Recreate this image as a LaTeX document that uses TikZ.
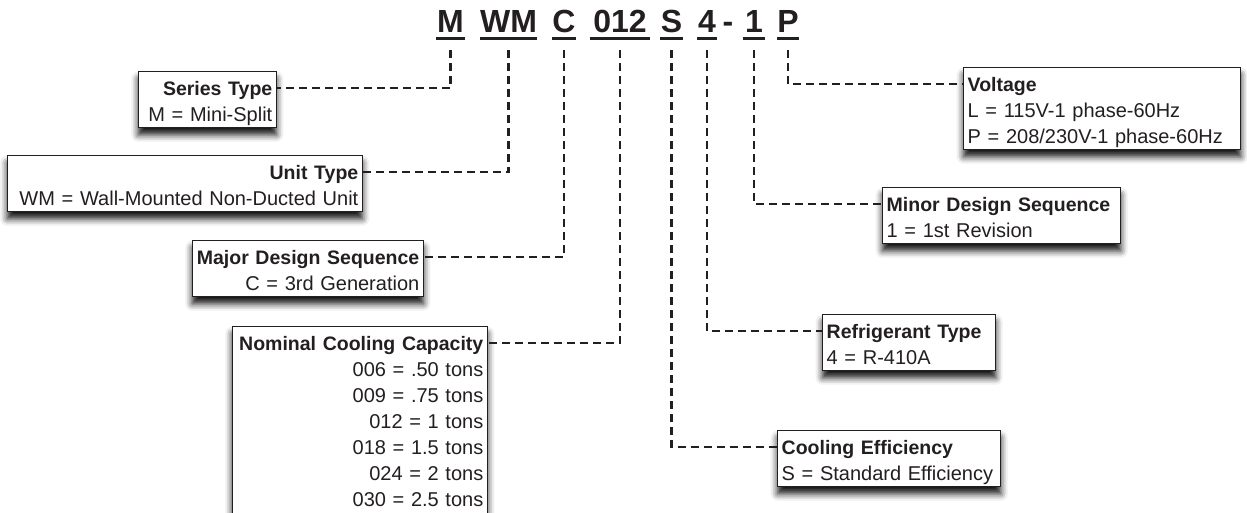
\documentclass[tikz,border=0pt]{standalone}
\usepackage{fontspec}
\setmainfont{Liberation Sans}
\usetikzlibrary{shadows.blur}
\definecolor{ink}{RGB}{35,31,32}
\newcommand\boxhd[1]{{\fontsize{19.5}{26}\selectfont\bfseries #1}}
\newcommand\topst{\rule{0pt}{24pt}}
\newcommand\botst{\rule[-6pt]{0pt}{6pt}}
\begin{document}
\begin{tikzpicture}[x=1pt,y=-1pt,
  code/.style={font=\fontsize{32}{34}\selectfont\bfseries, text=ink, inner xsep=0pt, inner ysep=0pt, anchor=base},
  uline/.style={ink, line width=3pt},
  conn/.style={ink, line width=2.6pt, dash pattern=on 8pt off 5pt},
  box/.style={draw=ink, line width=1.4pt, fill=white, text=ink, inner xsep=4pt, inner ysep=0pt,
    font=\fontsize{20}{26}\selectfont,
    blur shadow={shadow xshift=0pt, shadow yshift=-7pt, shadow blur radius=7pt, shadow opacity=95}},
  lbox/.style={box, align=right, anchor=north east},
  rbox/.style={box, align=left, anchor=north west}
]
\useasboundingbox (0,0) rectangle (1247,512);

% model code
\node[code, minimum width=29pt] (cM) at (450.5,32) {M};
\node[code, minimum width=53pt] (cWM) at (508.5,32) {WM};
\node[code, minimum width=22pt] (cC) at (564,32) {C};
\node[code, minimum width=60pt] (cN) at (620,32) {012};
\node[code, minimum width=23pt] (cS) at (671.5,32) {S};
\node[code, minimum width=20pt] (c4) at (707,32) {4};
\node[code] (cdash) at (728,32) {-};
\node[code, minimum width=22pt] (c1) at (754,32) {1};
\node[code, minimum width=22pt] (cP) at (788,32) {P};
\foreach \n in {cM,cWM,cC,cN,cS,c4,c1,cP}
  \draw[uline] ([yshift=-6.5pt]\n.base west) -- ([yshift=-6.5pt]\n.base east);

% boxes, left side
\node[lbox, text width=130pt] (series) at (277,71)
  {\boxhd{Series Type}\topst\\ M = Mini-Split\botst};
\node[lbox, text width=347pt] (unit) at (363,155)
  {\boxhd{Unit Type}\topst\\ WM = Wall-Mounted Non-Ducted Unit\botst};
\node[lbox, text width=223pt] (major) at (424,240)
  {\boxhd{Major Design Sequence}\topst\\ C = 3rd Generation\botst};
\node[lbox, text width=247pt] (nominal) at (488,326)
  {\boxhd{Nominal Cooling Capacity}\topst\\ 006 = .50 tons\\ 009 = .75 tons\\ 012 = 1 tons\\
   018 = 1.5 tons\\ 024 = 2 tons\\ 030 = 2.5 tons\rule[-20pt]{0pt}{20pt}};

% boxes, right side
\node[rbox, text width=269pt] (voltage) at (963,67)
  {\boxhd{Voltage}\topst\\ L = 115V-1 phase-60Hz\\ P = 208/230V-1 phase-60Hz\botst};
\node[rbox, text width=230pt] (minor) at (882,187)
  {\boxhd{Minor Design Sequence}\topst\\ 1 = 1st Revision\botst};
\node[rbox, text width=165pt] (refr) at (822,314)
  {\boxhd{Refrigerant Type}\topst\\ 4 = R-410A\botst};
\node[rbox, text width=215pt] (eff) at (777,430)
  {\boxhd{Cooling Efficiency}\topst\\ S = Standard Efficiency\botst};

% connectors
\draw[conn] ([yshift=-18pt]cM.base) |- ([yshift=-17pt]series.north east);
\draw[conn] ([yshift=-18pt]cWM.base) |- ([yshift=-17pt]unit.north east);
\draw[conn] ([yshift=-18pt]cC.base) |- ([yshift=-17pt]major.north east);
\draw[conn] ([yshift=-18pt]cN.base) |- ([yshift=-17pt]nominal.north east);
\draw[conn] ([yshift=-18pt]cS.base) |- ([yshift=-17pt]eff.north west);
\draw[conn] ([yshift=-18pt]c4.base) |- ([yshift=-17pt]refr.north west);
\draw[conn] ([yshift=-18pt]c1.base) |- ([yshift=-17pt]minor.north west);
\draw[conn] ([yshift=-18pt]cP.base) |- ([yshift=-17pt]voltage.north west);
\end{tikzpicture}
\end{document}
